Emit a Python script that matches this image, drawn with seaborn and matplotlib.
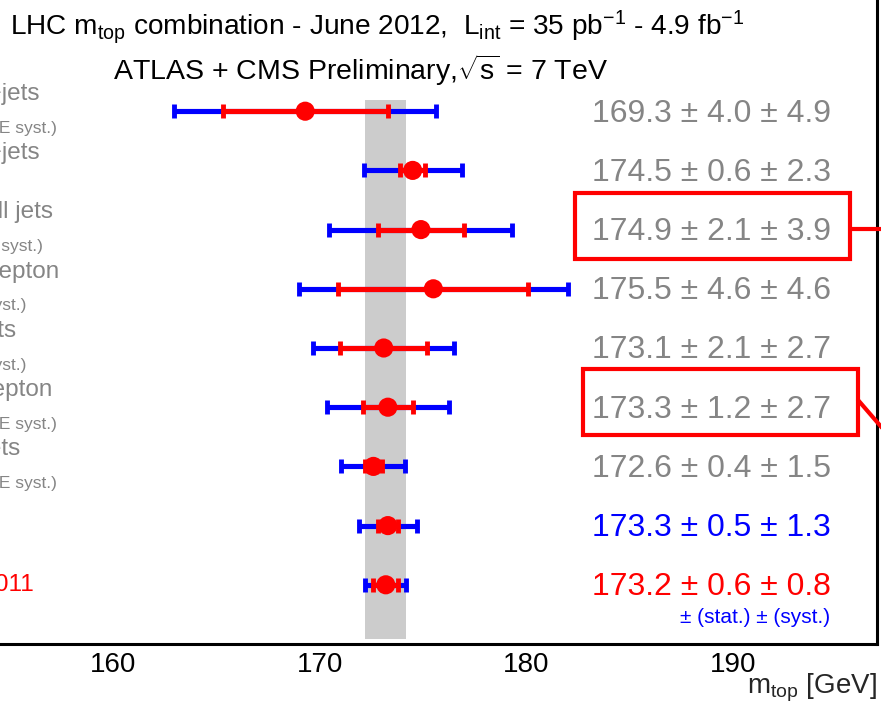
import numpy as np
import pandas as pd
import matplotlib
matplotlib.use("Agg")
import matplotlib.pyplot as plt
from matplotlib.patches import Rectangle
from matplotlib.lines import Line2D
import seaborn as sns

# ---------------- data ----------------
labels = ["ATLAS 2010, l+jets", "ATLAS 2011, l+jets", "ATLAS 2011, all jets",
          "CMS 2010, dilepton", "CMS 2010, \u03bc+jets", "CMS 2011, dilepton",
          "CMS 2011, \u03bc+jets", "LHC combination (June 2012)", "Tevatron July 2011"]
sublabels = ["(* no CR & UE syst.)", "", "(* no CR & UE syst.)",
             "(* no CR syst.)", "(* no CR syst.)", "(* no CR & UE syst.)",
             "(* no CR & UE syst.)", "", ""]
mtop = [169.3, 174.5, 174.9, 175.5, 173.1, 173.3, 172.6, 173.3, 173.2]
stat = [4.0, 0.6, 2.1, 4.6, 2.1, 1.2, 0.4, 0.5, 0.6]
syst = [4.9, 2.3, 3.9, 4.6, 2.7, 2.7, 1.5, 1.3, 0.8]
value_colors = ["#858585"] * 7 + ["#0000ff", "#ff0000"]
label_colors = ["#858585"] * 7 + ["#858585", "#ff0000"]
xticks = [140, 150, 160, 170, 180, 190]

# ---------------- layout ----------------
label_end = [156.45, 156.45, 157.08, 157.42, 155.33, 157.08, 155.52, 153.0, 156.18]
sub_end = [157.29, None, 156.61, 155.79, 155.79, 157.29, 157.29, None, None]

sns.set_style("white")
plt.rcParams["font.family"] = ["Liberation Sans", "DejaVu Sans"]
plt.rcParams["mathtext.fontset"] = "custom"
plt.rcParams["mathtext.rm"] = "Liberation Sans"
plt.rcParams["mathtext.it"] = "Liberation Sans"
plt.rcParams["mathtext.bf"] = "Liberation Sans"

W, H = 881, 710
fig = plt.figure(figsize=(W / 100, H / 100), dpi=100)

# axes extends beyond the figure on the left and top (cropped view)
px_per_gev = 20.667
x_lo, x_hi = 140.0, 196.97
left_px = 113 + (x_lo - 160) * px_per_gev
right_px = 113 + (x_hi - 160) * px_per_gev
bottom_px = 644
px_per_row = 59.2
y_top = 11.5
ax = fig.add_axes([left_px / W, (H - bottom_px) / H,
                   (right_px - left_px) / W, y_top * px_per_row / H])
ax.set_xlim(x_lo, x_hi)
ax.set_ylim(0, y_top)

n = len(mtop)
ypos = np.arange(n, 0, -1)  # 9 .. 1
df = pd.DataFrame({"label": labels, "mtop": mtop, "stat": stat, "syst": syst,
                   "y": ypos})
df["total"] = np.sqrt(df["stat"] ** 2 + df["syst"] ** 2)

# grey band: Tevatron total uncertainty
tev = df.iloc[-1]
ax.fill_betweenx([0.085, 9.19], tev["mtop"] - tev["total"], tev["mtop"] + tev["total"],
                 color="#cccccc", lw=0, zorder=1)

# total (blue) and stat (red) error bars
ax.errorbar(df["mtop"], df["y"], xerr=df["total"], fmt="none", ecolor="#0000ff",
            elinewidth=3.7, capsize=4.8, capthick=3.5, zorder=3)
ax.errorbar(df["mtop"], df["y"], xerr=df["stat"], fmt="none", ecolor="#ff0000",
            elinewidth=3.7, capsize=4.8, capthick=3.5, zorder=4)
sns.scatterplot(data=df, x="mtop", y="y", ax=ax, color="#ff0000", s=190,
                edgecolor="none", zorder=5, legend=False)

# value texts
for i in range(n):
    ax.text(183.2, ypos[i] - 0.04,
            f"{mtop[i]:.1f} \u00b1 {stat[i]:.1f} \u00b1 {syst[i]:.1f}",
            fontsize=23, color=value_colors[i], ha="left", va="center", zorder=6)
ax.text(187.43, 0.456, "\u00b1 (stat.) \u00b1 (syst.)", fontsize=15,
        color="#0000ff", ha="left", va="center")

# left labels (cropped by the figure edge)
for i in range(n):
    dy = 0.29 if (sublabels[i] or i == 1) else 0.0
    ax.text(label_end[i], ypos[i] + dy, labels[i], fontsize=17.5,
            color=label_colors[i], ha="right", va="center", clip_on=False)
    if sublabels[i]:
        ax.text(sub_end[i], ypos[i] - 0.29, sublabels[i], fontsize=12.5,
                color=label_colors[i], ha="right", va="center")

# titles
ax.text(155.02, 10.42,
        r"LHC m$_{\mathrm{top}}$ combination - June 2012,  L$_{\mathrm{int}}$ = 35 pb$^{\mathrm{-1}}$ - 4.9 fb$^{\mathrm{-1}}$",
        fontsize=20.2, color="black", ha="left", va="center")
ax.text(160.0, 9.70, r"ATLAS + CMS Preliminary,$\sqrt{\mathrm{s}}$ = 7 TeV",
        fontsize=20.5, color="black", ha="left", va="center")

# axes styling
ax.set_xticks(xticks)
ax.set_xticklabels([str(t) for t in xticks], fontsize=20)
ax.set_yticks([])
ax.tick_params(axis="x", direction="in", length=14, width=1.6, pad=6, colors="black")
for side in ["bottom", "right", "left", "top"]:
    ax.spines[side].set_visible(True)
    ax.spines[side].set_color("black")
    ax.spines[side].set_linewidth(2.2)
ax.set_xlabel("")
ax.set_ylabel("")
fig.text(877 / W, (H - 688) / H, r"m$_{\mathrm{top}}$ [GeV]", fontsize=20,
         ha="right", va="center")

# red highlight boxes and connector lines (figure pixel coords)
def fx(x):
    return x / W

def fy(y):
    return (H - y) / H

for (x0, y0, x1, y1) in [(575, 193, 850, 259), (583, 369, 858, 435)]:
    fig.add_artist(Rectangle((fx(x0), fy(y1)), fx(x1) - fx(x0), fy(y0) - fy(y1),
                             transform=fig.transFigure, fill=False,
                             edgecolor="#ff0000", lw=3.0, zorder=10))
fig.add_artist(Line2D([fx(850), fx(885)], [fy(229), fy(229)],
                      transform=fig.transFigure, color="#ff0000", lw=3.0, zorder=10))
fig.add_artist(Line2D([fx(858), fx(890)], [fy(400), fy(437)],
                      transform=fig.transFigure, color="#ff0000", lw=3.0, zorder=10))

fig.savefig("out.png", dpi=100)
